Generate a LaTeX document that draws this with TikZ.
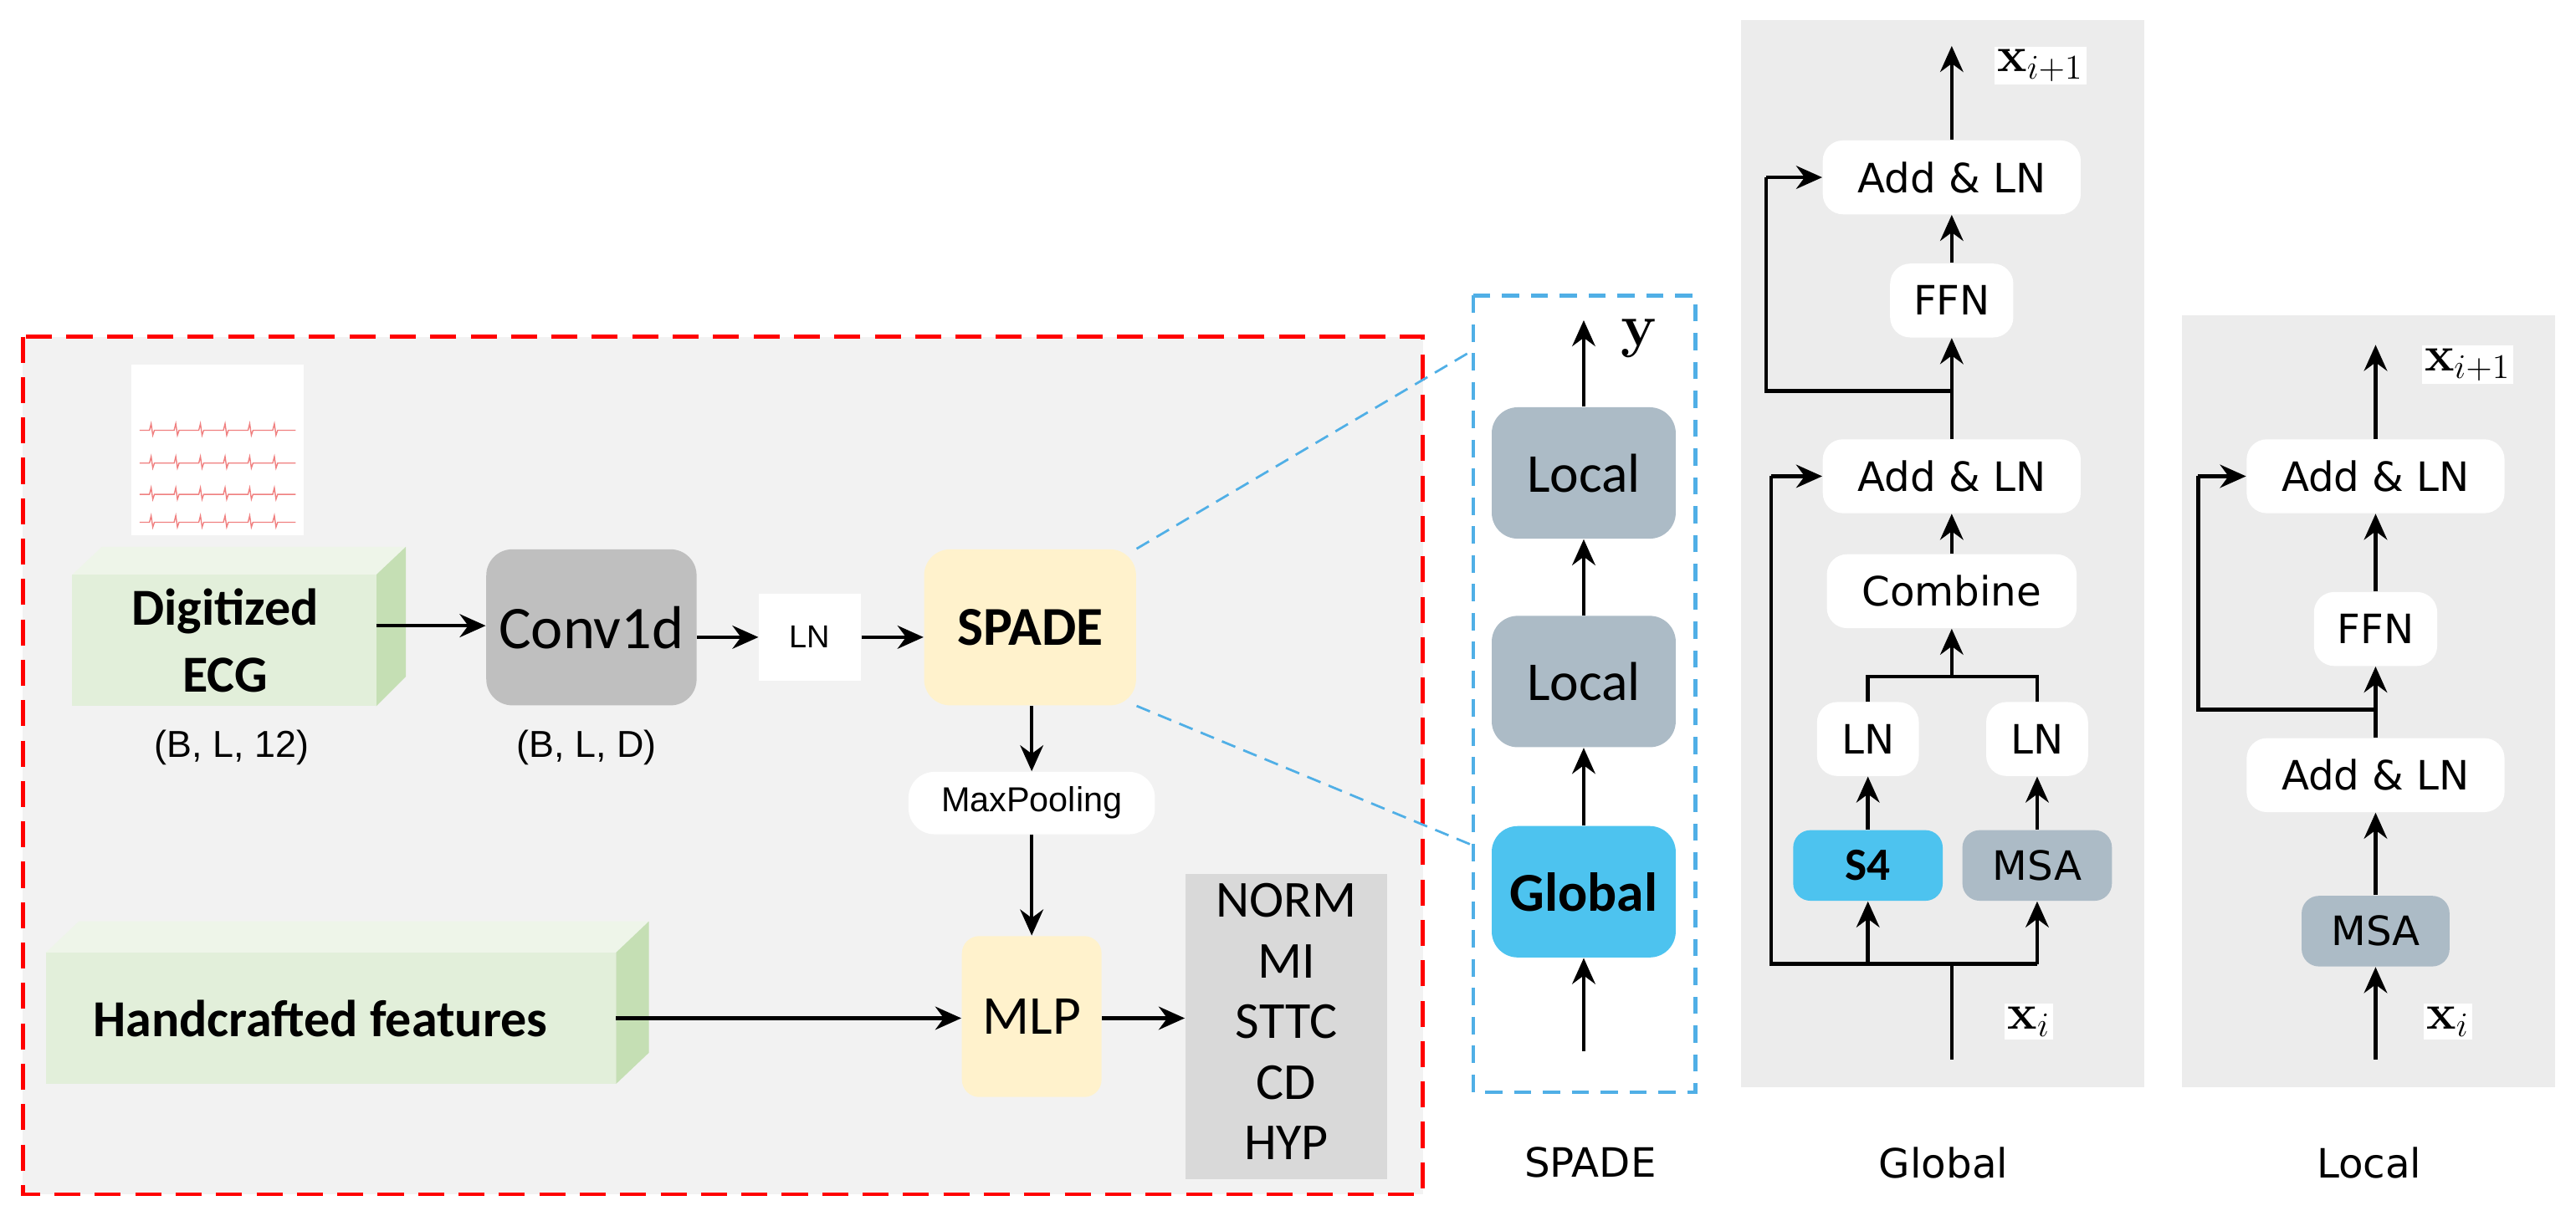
\documentclass[tikz,border=0pt]{standalone}
\usepackage[no-math]{fontspec}
\setmainfont{Carlito}
\newfontfamily\dv{DejaVu Sans}
\newfontfamily\lib{Liberation Sans}
\usetikzlibrary{arrows.meta}
\definecolor{bgg}{HTML}{F2F2F2}
\definecolor{pan}{HTML}{ECECEC}
\definecolor{grn}{HTML}{E2EFDA}
\definecolor{grnt}{HTML}{EEF5E9}
\definecolor{grns}{HTML}{C5DFB4}
\definecolor{yel}{HTML}{FFF2CC}
\definecolor{cvg}{HTML}{BFBFBF}
\definecolor{lab}{HTML}{D9D9D9}
\definecolor{blu}{HTML}{4DC3EF}
\definecolor{slate}{HTML}{ACBBC6}
\definecolor{ecg}{HTML}{F08080}
\begin{document}
\begin{tikzpicture}[x=0.02cm,y=-0.02cm,
 arr/.style={-{Stealth[length=9pt,width=8pt]},line width=1.3pt},
 ln/.style={line width=1.3pt},
 wb/.style={draw=none,fill=white,rounded corners=7pt,font=\dv\fontsize{14}{16}\selectfont,inner sep=0pt},
 big/.style={draw=none,rounded corners=9pt,font=\fontsize{21}{24}\selectfont,inner sep=0pt},
 sm/.style={draw=none,rounded corners=6pt,font=\dv\fontsize{14}{16}\selectfont,inner sep=0pt}]
\useasboundingbox (0,0) rectangle (1568,740);
% left dashed box
\draw[red,fill=bgg,line width=1.2pt,dash pattern=on 9pt off 5pt] (14,205) rectangle (866,727);
% ECG image
\fill[white] (80,222) rectangle (185,326);
\foreach \yy in {262,282,301,318}{
 \draw[ecg,line width=0.4pt] (85,\yy) \foreach \k in {0,...,5}{ -- ++(6,0) -- ++(1,-4) -- ++(1,7) -- ++(1,-3) -- ++(6,0)} -- (180,\yy);}
% Digitized ECG cuboid
\fill[grnt] (44,350) -- (62,333) -- (247,333) -- (229,350) -- cycle;
\fill[grns] (229,350) -- (247,333) -- (247,412) -- (229,430) -- cycle;
\fill[grn] (44,350) rectangle (229,430);
\node[font=\bfseries\fontsize{18}{23}\selectfont,align=center] (ecg) at (137,390) {Digitized\\ECG};
\coordinate (ecgout) at (229,381);
\node[font=\lib\fontsize{13}{15}\selectfont] (d1) at (141,455) {(B, L, 12)};
% Conv1d
\node[big,fill=cvg,minimum width=128*0.02cm,minimum height=95*0.02cm] (conv) at (360,382) {Conv1d};
\node[font=\lib\fontsize{13}{15}\selectfont] (d2) at (357,455) {(B, L, D)};
\node[draw=none,fill=white,minimum width=62*0.02cm,minimum height=53*0.02cm,font=\lib\fontsize{11}{13}\selectfont] (ln0) at (493,388) {LN};
\node[big,fill=yel,minimum width=129*0.02cm,minimum height=95*0.02cm,font=\bfseries\fontsize{19}{24}\selectfont] (spade) at (627,382) {SPADE};
\draw[arr] (ecgout) -- (ecgout-|conv.west);
\draw[arr] (conv.east|-ln0) -- (ln0.west);
\draw[arr] (ln0) -- (spade.west|-ln0);
\node[sm,fill=white,minimum width=150*0.02cm,minimum height=38*0.02cm,rounded corners=9pt,font=\lib\fontsize{12}{14}\selectfont] (mp) at (628,489) {MaxPooling};
\node[big,fill=yel,minimum width=85*0.02cm,minimum height=98*0.02cm,rounded corners=6pt,font=\fontsize{19}{22}\selectfont] (mlp) at (628,619) {MLP};
\draw[arr] (spade.south-|mp) -- (mp.north);
\draw[arr] (mp.south) -- (mlp.north);
% Handcrafted cuboid
\fill[grnt] (28,580) -- (48,561) -- (395,561) -- (375,580) -- cycle;
\fill[grns] (375,580) -- (395,561) -- (395,641) -- (375,660) -- cycle;
\fill[grn] (28,580) rectangle (375,660);
\node[font=\bfseries\fontsize{18}{22}\selectfont] (hf) at (195,620) {Handcrafted features};
\coordinate (hfout) at (375,620);
\draw[arr] (hfout) -- (hfout-|mlp.west);
\node[fill=lab,minimum width=123*0.02cm,minimum height=186*0.02cm,inner sep=0pt] (cls) at (783,625) {};
\node[font=\fontsize{18}{21.5}\selectfont,align=center,inner sep=0pt] (clst) at (783,622) {NORM\\[-0.5pt]MI\\[-0.5pt]STTC\\[-0.5pt]CD\\[-0.5pt]HYP};
\draw[arr] (mlp.east|-hfout) -- (cls.west|-hfout);
% SPADE column
\draw[cyan!80!blue!70,line width=1.2pt,dash pattern=on 6pt off 4pt] (897,180) rectangle (1032,665);
\coordinate (zt) at (897,213); \coordinate (zb) at (897,515);
\draw[cyan!80!blue!70,line width=0.8pt,dash pattern=on 5pt off 3pt] (spade.north east) -- (zt);
\draw[cyan!80!blue!70,line width=0.8pt,dash pattern=on 5pt off 3pt] (spade.south east) -- (zb);
\node[big,fill=slate,minimum width=112*0.02cm,minimum height=80*0.02cm,font=\fontsize{19}{22}\selectfont] (sl2) at (964,288) {Local};
\node[big,fill=slate,minimum width=112*0.02cm,minimum height=80*0.02cm,font=\fontsize{19}{22}\selectfont] (sl1) at (964,415) {Local};
\node[big,fill=blu,minimum width=112*0.02cm,minimum height=80*0.02cm,font=\bfseries\fontsize{19}{22}\selectfont] (sg) at (964,543) {Global};
\coordinate (sin) at (964,640); \coordinate (sout) at (964,195);
\draw[arr] (sin) -- (sg.south);
\draw[arr] (sg.north) -- (sl1.south);
\draw[arr] (sl1.north) -- (sl2.south);
\draw[arr] (sl2.north) -- (sout);
\node (yl) at (998,206) {\fontsize{20}{22}\selectfont$\mathbf{y}$};
\node[font=\dv\fontsize{14}{16}\selectfont] (t1) at (968,708) {SPADE};
\node[font=\dv\fontsize{14}{16}\selectfont] (t2) at (1183,708) {Global};
\node[font=\dv\fontsize{14}{16}\selectfont] (t3) at (1442,708) {Local};
% Global panel
\fill[pan] (1060,12) rectangle (1305,662);
\node[wb,minimum width=157*0.02cm,minimum height=45*0.02cm] (ga2) at (1188,108) {Add \& LN};
\node[wb,minimum width=75*0.02cm,minimum height=45*0.02cm] (gf) at (1188,183) {FFN};
\node[wb,minimum width=157*0.02cm,minimum height=45*0.02cm] (ga1) at (1188,290) {Add \& LN};
\node[wb,minimum width=152*0.02cm,minimum height=45*0.02cm] (gc) at (1188,360) {Combine};
\node[wb,minimum width=62*0.02cm,minimum height=45*0.02cm] (gl1) at (1137,450) {LN};
\node[wb,minimum width=62*0.02cm,minimum height=45*0.02cm] (gl2) at (1240,450) {LN};
\node[sm,fill=blu,minimum width=91*0.02cm,minimum height=43*0.02cm,font=\bfseries\fontsize{16}{18}\selectfont] (gs4) at (1137,527) {S4};
\node[sm,fill=slate,minimum width=91*0.02cm,minimum height=43*0.02cm] (gm) at (1240,527) {MSA};
\coordinate (gin) at (1188,645); \coordinate (gj) at (1188,587);
\coordinate (gout) at (1188,28);
\draw[ln] (gin) -- (gj);
\draw[ln] (1078,290) -- (1078,587) -- (1240,587);
\draw[arr] (gs4.south|-gj) -- (gs4.south);
\draw[arr] (gm.south|-gj) -- (gm.south);
\draw[arr] (1078,290) -- (ga1.west);
\draw[arr] (gs4) -- (gl1);
\draw[arr] (gm) -- (gl2);
\draw[ln] (gl1.north) -- (1137,412) -- (1240,412) -- (gl2.north);
\draw[arr] (1188,412) -- (gc.south);
\draw[arr] (gc) -- (ga1);
\draw[arr] (ga1) -- (gf);
\draw[ln] (1188,238) -- (1075,238) -- (1075,108);
\draw[arr] (1075,108) -- (ga2.west);
\draw[arr] (gf) -- (ga2);
\draw[arr] (ga2.north) -- (gout);
\node[fill=white,inner sep=1pt] (gx1) at (1242,40) {\fontsize{17}{19}\selectfont$\mathbf{x}_{i+1}$};
\node[fill=white,inner sep=1pt] (gx0) at (1235,622) {\fontsize{17}{19}\selectfont$\mathbf{x}_{i}$};
% Local panel
\fill[pan] (1328,192) rectangle (1555,662);
\node[wb,minimum width=157*0.02cm,minimum height=45*0.02cm] (la2) at (1446,290) {Add \& LN};
\node[wb,minimum width=75*0.02cm,minimum height=45*0.02cm] (lf) at (1446,383) {FFN};
\node[wb,minimum width=157*0.02cm,minimum height=45*0.02cm] (la1) at (1446,472) {Add \& LN};
\node[sm,fill=slate,minimum width=90*0.02cm,minimum height=43*0.02cm] (lm) at (1446,567) {MSA};
\coordinate (lin) at (1446,645); \coordinate (lout) at (1446,210);
\draw[arr] (lin) -- (lm.south);
\draw[arr] (lm) -- (la1);
\draw[arr] (la1) -- (lf);
\draw[ln] (1446,432) -- (1338,432) -- (1338,290);
\draw[arr] (1338,290) -- (la2.west);
\draw[arr] (lf) -- (la2);
\draw[arr] (la2.north) -- (lout);
\node[fill=white,inner sep=1pt] (lx1) at (1502,222) {\fontsize{17}{19}\selectfont$\mathbf{x}_{i+1}$};
\node[fill=white,inner sep=1pt] (lx0) at (1490,622) {\fontsize{17}{19}\selectfont$\mathbf{x}_{i}$};
\end{tikzpicture}
\end{document}
